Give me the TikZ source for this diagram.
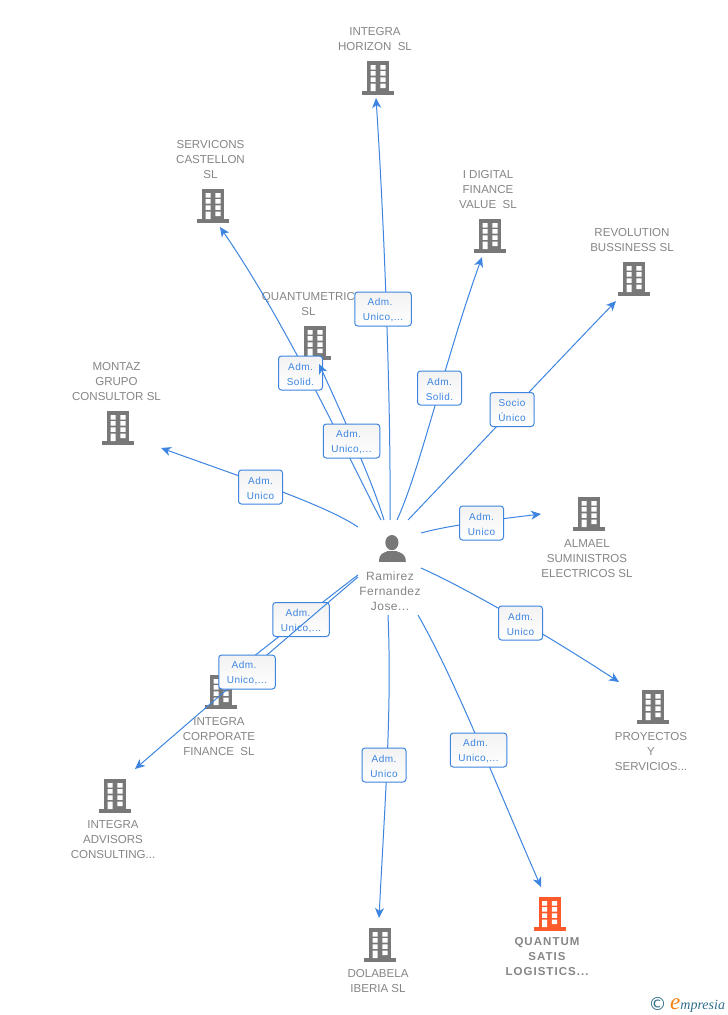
\documentclass[tikz,border=0pt]{standalone}
\usepackage{fontspec}
\setmainfont{Liberation Sans}
\newfontfamily\cprfont{DejaVu Sans}
\newfontfamily\brandfont{Liberation Serif}
\usetikzlibrary{arrows.meta}
\definecolor{linkblue}{HTML}{3D85E0}
\definecolor{txtgray}{HTML}{868686}
\definecolor{icongray}{HTML}{787878}
\definecolor{hotorange}{HTML}{FF5A2C}
\definecolor{brandteal}{HTML}{2F6F8A}
\definecolor{brandorange}{HTML}{F08010}
\tikzset{
  x=1pt,y=-1pt,
  conn/.style={draw=linkblue,line width=1pt,-{Stealth[length=10pt,width=9pt,inset=3pt]}},
  edgelabel/.style={draw=linkblue,line width=1pt,rounded corners=3pt,top color=black!5,bottom color=white,
    text=linkblue,inner sep=0pt,minimum height=34pt,align=center,
    font=\fontsize{10}{15}\selectfont\addfontfeature{LetterSpace=4.5}},
  lblshort/.style={edgelabel,minimum width=44pt},
  lbllong/.style={edgelabel,minimum width=56.5pt},
  company/.style={text=txtgray,align=center,inner sep=0pt,font=\fontsize{11.55}{15}\selectfont},
  hitbox/.style={inner sep=0pt,minimum width=32pt,minimum height=33pt},
}
\newcommand{\elab}[2]{\rule{0pt}{10pt}#1\\#2}
\newcommand{\elong}[2]{\rule{0pt}{10pt}#1\hspace*{6pt}\\#2}
% name, centre x, top y, colour
\newcommand{\bldg}[4]{%
  \node[hitbox] (#1) at (#2,#3+16.5) {};
  \begin{scope}[shift={(#2,#3)}]
    \fill[#4] (-11,0) rectangle (11,32);
    \fill[#4] (-16,30.2) rectangle (16,33.5);
    \fill[white] (-7.5,4) rectangle (-2.3,8.5) (2.3,4) rectangle (7.5,8.5)
                 (-7.5,10.2) rectangle (-2.3,14.6) (2.3,10.2) rectangle (7.5,14.6)
                 (-7.5,16.4) rectangle (-2.3,20.8) (2.3,16.4) rectangle (7.5,20.8)
                 (-7.5,22.6) rectangle (-2.3,30.2) (2.3,22.6) rectangle (7.5,27.2);
  \end{scope}}
\begin{document}
\begin{tikzpicture}
\useasboundingbox (0,0) rectangle (728,1015);
\fill[white] (0,0) rectangle (728,1015);

% buildings
\bldg{horizon}{378}{61}{icongray}
\bldg{servicons}{213}{189}{icongray}
\bldg{idigital}{490}{219}{icongray}
\bldg{revolution}{634}{262}{icongray}
\bldg{quantumetric}{315}{326}{icongray}
\bldg{montaz}{118}{411}{icongray}
\bldg{almael}{589}{497}{icongray}
\bldg{proyectos}{653}{690}{icongray}
\bldg{corporate}{221}{675}{icongray}
\bldg{advisors}{115}{779}{icongray}
\bldg{dolabela}{380}{928}{icongray}
\bldg{satis}{549.5}{897}{hotorange}

% company names
\node[company] (thorizon) at (375,39.5) {INTEGRA\\HORIZON\ \ SL};
\node[company] (tservicons) at (210.5,160) {SERVICONS\\CASTELLON\\SL};
\node[company] (tidigital) at (488,190) {I DIGITAL\\FINANCE\\VALUE\ \ SL};
\node[company] (trevolution) at (632,240.5) {REVOLUTION\\BUSSINESS SL};
\node[company] (tquantumetric) at (308.5,304.5) {QUANTUMETRIC\\SL};
\node[company] (tmontaz) at (116.5,382) {MONTAZ\\GRUPO\\CONSULTOR SL};
\node[company] (talmael) at (587,559) {ALMAEL\\SUMINISTROS\\ELECTRICOS SL};
\node[company] (tproyectos) at (651,752) {PROYECTOS\\Y\\SERVICIOS...};
\node[company] (tcorporate) at (219,737) {INTEGRA\\CORPORATE\\FINANCE\ \ SL};
\node[company] (tadvisors) at (113,840) {INTEGRA\\ADVISORS\\CONSULTING...};
\node[company] (tdolabela) at (378,981.5) {DOLABELA\\IBERIA SL};
\node[company,font=\fontsize{11.5}{15}\selectfont\bfseries\addfontfeature{LetterSpace=9}] (tsatis) at (547,957) {QUANTUM\\SATIS\\LOGISTICS...};

% person
\node[inner sep=0pt,minimum width=28pt,minimum height=30pt] (person) at (392.5,548) {};
\fill[icongray] (391.9,542.6) ellipse (6.6 and 7.6);
\fill[icongray] (379,561.8) .. controls (379,553.5) and (383,553) .. (388,551)
  -- (396,551) .. controls (401,553) and (405.8,553.5) .. (405.8,561.8) -- cycle;
\node[company,font=\fontsize{12}{15}\selectfont\addfontfeature{LetterSpace=4}] (tperson) at (390,591.5) {Ramirez\\Fernandez\\Jose...};

% connector ends
\coordinate (s1) at (390,520); \coordinate (e1) at (376,98);
\coordinate (s2) at (381,520); \coordinate (e2) at (220,227);
\coordinate (s3) at (384,520); \coordinate (e3) at (319,364);
\coordinate (s4) at (397,520); \coordinate (e4) at (482,257);
\coordinate (s5) at (408,520); \coordinate (e5) at (616,301);
\coordinate (s6) at (358,527); \coordinate (e6) at (161,448);
\coordinate (s7) at (421,533); \coordinate (e7) at (541,514);
\coordinate (s8) at (421,568); \coordinate (e8) at (619,682);
\coordinate (s9) at (418,615); \coordinate (e9) at (541,887);
\coordinate (s10) at (388,615); \coordinate (e10) at (379,918);
\coordinate (s11) at (358,575); \coordinate (e11) at (244,664);
\coordinate (s12) at (358,577); \coordinate (e12) at (135,769);

% connectors
\draw[conn] (s1) .. controls (391,400) and (384,220) .. (e1);
\draw[conn] (s2) .. controls (352,465) and (290,329) .. (e2);
\draw[conn] (s4) .. controls (420,470) and (445,360) .. (e4);
\draw[conn] (s5) .. controls (470,455) and (540,380) .. (e5);
\draw[conn] (s6) .. controls (325,505) and (250,480) .. (e6);
\draw[conn] (s7) .. controls (450,525) and (500,519) .. (e7);
\draw[conn] (s8) .. controls (470,590) and (550,637) .. (e8);
\draw[conn] (s9) .. controls (455,680) and (490,770) .. (e9);
\draw[conn] (s10) .. controls (392,710) and (385,800) .. (e10);
\draw[conn] (s11) .. controls (325,600) and (285,632) .. (e11);

% connector labels
\node[lbllong] (l1) at (383,309) {\elong{Adm.}{Unico,...}};
\node[lblshort] (l2) at (300.5,373) {\elab{Adm.}{Solid.}};
\draw[conn] (s3) .. controls (372,480) and (340,410) .. (e3);
\node[lbllong] (l3) at (351.5,441) {\elong{Adm.}{Unico,...}};
\node[lblshort] (l4) at (439.5,388) {\elab{Adm.}{Solid.}};
\node[lblshort] (l5) at (512,409.5) {\elab{Socio}{Único}};
\node[lblshort] (l6) at (260.5,487) {\elab{Adm.}{Unico}};
\node[lblshort] (l7) at (481.5,523) {\elab{Adm.}{Unico}};
\node[lblshort] (l8) at (520.5,623) {\elab{Adm.}{Unico}};
\node[lblshort] (l9) at (384,765) {\elab{Adm.}{Unico}};
\node[lbllong] (l10) at (478.5,750) {\elong{Adm.}{Unico,...}};
\node[lbllong] (l11) at (301,619.5) {\elong{Adm.}{Unico,...}};
\draw[conn] (s12) .. controls (284,640) and (209,705) .. (e12);
\node[lbllong] (l12) at (247,672) {\elong{Adm.}{Unico,...}};

% footer
\node[inner sep=0pt,text=brandteal,font=\cprfont\fontsize{18}{18}\selectfont] (copyr) at (657.5,1003.5) {©};
\node[inner sep=0pt,anchor=base west,font=\brandfont\itshape\fontsize{14}{14}\selectfont,text=brandteal] (brand) at (670,1009)
  {\textcolor{brandorange}{\fontsize{23}{23}\selectfont e}mpresia};
\end{tikzpicture}
\end{document}
